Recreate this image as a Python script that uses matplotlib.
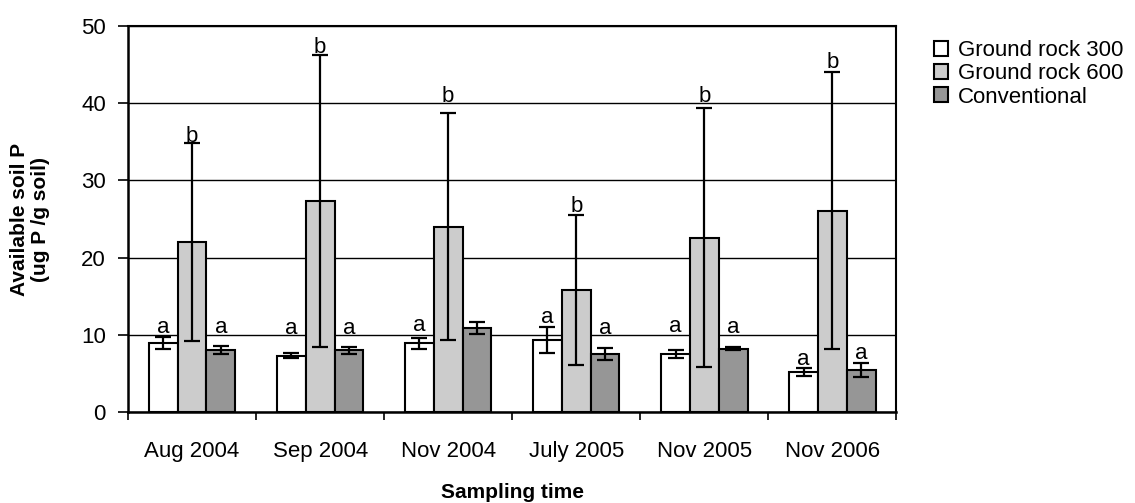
import matplotlib
matplotlib.use("Agg")
import matplotlib.pyplot as plt
import numpy as np

plt.rcParams['font.family'] = ['Liberation Sans', 'DejaVu Sans']

dates = ['Aug 2004', 'Sep 2004', 'Nov 2004', 'July 2005', 'Nov 2005', 'Nov 2006']
series_names = ['Ground rock 300', 'Ground rock 600', 'Conventional']
series_colors = ['#ffffff', '#cccccc', '#969696']

rock300 = [8.9, 7.3, 8.9, 9.3, 7.5, 5.2]
rock600 = [22.0, 27.3, 24.0, 15.8, 22.6, 26.1]
conventional = [8.0, 8.0, 10.9, 7.5, 8.2, 5.4]

rock300_err = [0.8, 0.3, 0.7, 1.7, 0.55, 0.5]
rock600_err = [12.8, 18.9, 14.7, 9.7, 16.8, 18.0]
conventional_err = [0.5, 0.45, 0.8, 0.8, 0.2, 0.9]

# significance letters and the height of their baseline
rock300_letters = ['a', 'a', 'a', 'a', 'a', 'a']
rock600_letters = ['b', 'b', 'b', 'b', 'b', 'b']
conventional_letters = ['a', 'a', '', 'a', 'a', 'a']
rock300_letter_y = [10.2, 10.1, 10.5, 11.5, 10.4, 6.1]
rock600_letter_y = [35.0, 46.5, 40.2, 25.9, 40.2, 44.6]
conventional_letter_y = [10.2, 10.1, 0, 10.1, 10.2, 6.9]

values = [rock300, rock600, conventional]
errors = [rock300_err, rock600_err, conventional_err]
letters = [rock300_letters, rock600_letters, conventional_letters]
letter_y = [rock300_letter_y, rock600_letter_y, conventional_letter_y]

FS = 16

fig = plt.figure(figsize=(11.35, 5.03), dpi=100)
ax = fig.add_axes([0.1128, 0.181, 0.677, 0.767])

x = np.arange(len(dates))
width = 0.225
offsets = [-width, 0, width]

for vals, errs, lets, ly, off, name, col in zip(values, errors, letters, letter_y,
                                              offsets, series_names, series_colors):
    ax.bar(x + off, vals, width, color=col, edgecolor='black', linewidth=1.5,
           label=name, zorder=2)
    ax.errorbar(x + off, vals, yerr=errs, fmt='none', ecolor='black',
                elinewidth=1.6, capsize=6, capthick=1.6, zorder=3)
    for xi, letter, yi in zip(x + off, lets, ly):
        if letter:
            ax.text(xi, yi, letter, ha='center', va='baseline', fontsize=FS,
                    zorder=4)

ax.set_xlim(-0.5, len(dates) - 0.5)
ax.set_ylim(0, 50)
ax.set_yticks(range(0, 51, 10))
ax.yaxis.grid(True, color='black', linewidth=1.0)
ax.set_axisbelow(True)

ax.set_xticks(np.arange(-0.5, len(dates), 1.0))
ax.set_xticklabels([])
ax.set_xticks(x, minor=True)
ax.set_xticklabels(dates, minor=True)
ax.tick_params(axis='x', which='major', length=6, width=1.2, direction='out')
ax.tick_params(axis='x', which='minor', length=0, labelsize=FS, pad=21)
ax.tick_params(axis='y', length=7, width=1.2, labelsize=FS, pad=9)

for side in ['left', 'bottom']:
    ax.spines[side].set_linewidth(1.8)
for side in ['top', 'right']:
    ax.spines[side].set_linewidth(1.5)

ax.set_ylabel('Available soil P\n(ug P /g soil)', fontsize=FS - 1, fontweight='bold',
              linespacing=1.1)
ax.yaxis.set_label_coords(-0.102, 0.5)
ax.set_xlabel('Sampling time', fontsize=FS - 1, fontweight='bold')
ax.xaxis.set_label_coords(0.5, -0.183)

fig.legend(loc='upper left', bbox_to_anchor=(0.815, 0.938), frameon=False,
           fontsize=FS, handlelength=0.65, handleheight=0.65, handletextpad=0.45,
           labelspacing=0.1, borderaxespad=0)

fig.savefig('out.png', dpi=100)
